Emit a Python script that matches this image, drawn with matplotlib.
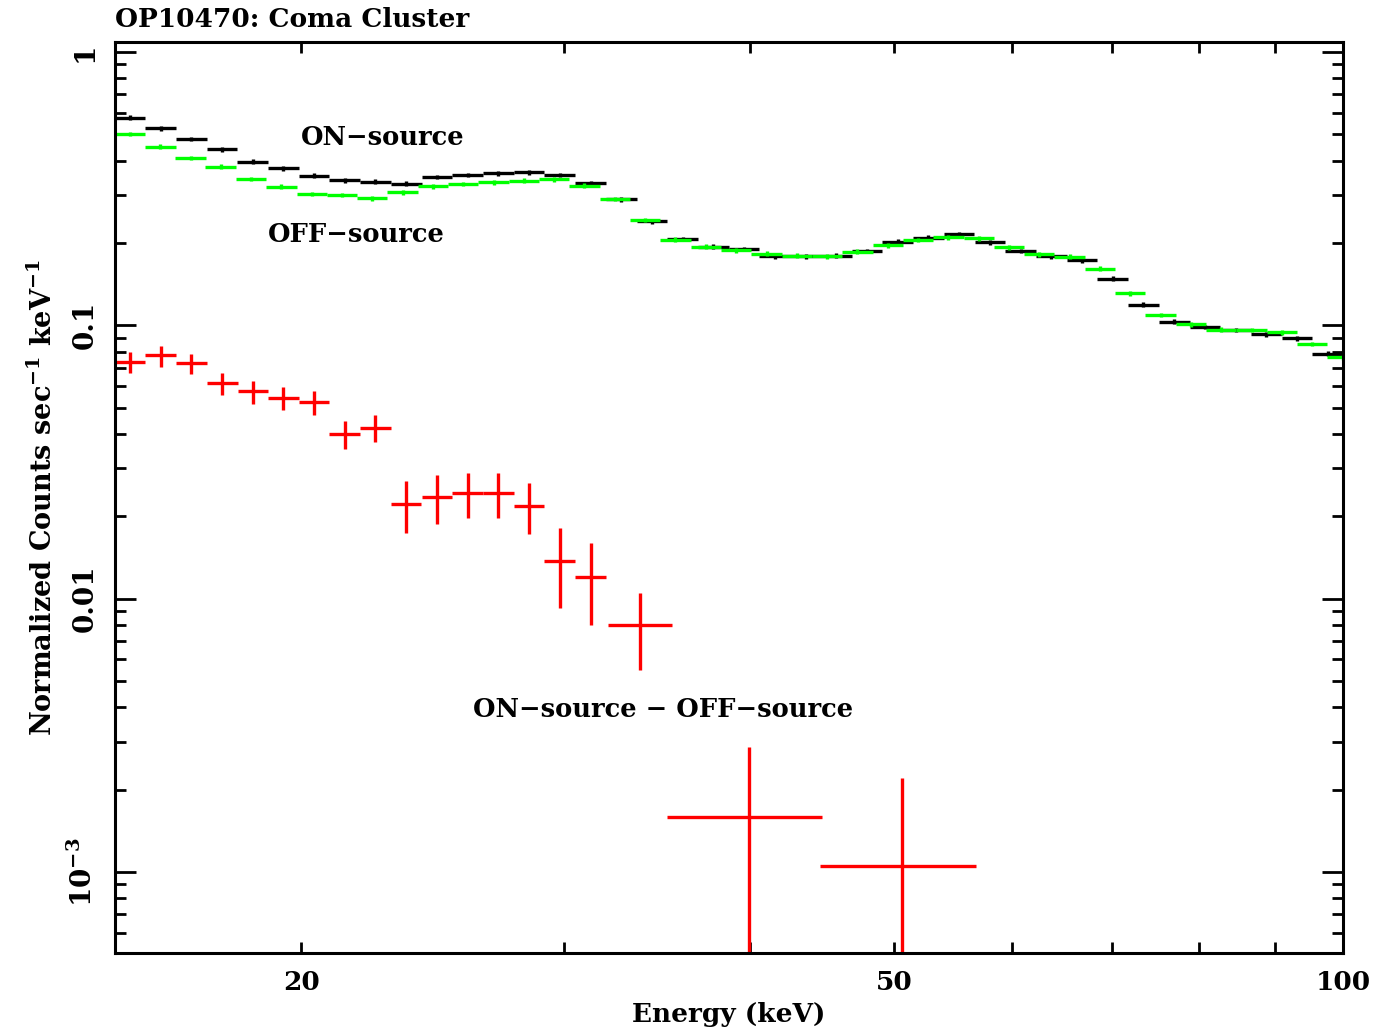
import matplotlib.pyplot as plt
from matplotlib.ticker import FixedLocator, FixedFormatter, NullFormatter

plt.rcParams['font.family'] = ['DejaVu Serif']
plt.rcParams['font.weight'] = 'bold'
plt.rcParams['mathtext.fontset'] = 'dejavuserif'
plt.rcParams['mathtext.default'] = 'bf'

# ON-source spectrum (black), channel centres in keV
on_energy = [15.35, 16.10, 16.88, 17.70, 18.56, 19.46, 20.40, 21.39, 22.43, 23.52,
             24.67, 25.87, 27.12, 28.44, 29.82, 31.27, 32.79, 34.38, 36.05, 37.80,
             39.64, 41.57, 43.59, 45.71, 47.93, 50.26, 52.70, 55.26, 57.95, 60.76,
             63.72, 66.81, 70.06, 73.47, 77.04, 80.78, 84.71, 88.83, 93.14, 97.67]
on_rate = [0.575, 0.526, 0.480, 0.441, 0.397, 0.375, 0.353, 0.339, 0.335, 0.330,
           0.349, 0.355, 0.360, 0.363, 0.355, 0.331, 0.289, 0.240, 0.207, 0.194,
           0.190, 0.179, 0.179, 0.180, 0.187, 0.202, 0.209, 0.215, 0.201, 0.187,
           0.179, 0.173, 0.148, 0.119, 0.103, 0.0986, 0.0961, 0.0927, 0.0896, 0.0787]
on_half_bin = 1.0240
on_rel_err = 0.02

# OFF-source spectrum (green)
off_energy = [15.35, 16.09, 16.86, 17.66, 18.51, 19.40, 20.33, 21.30, 22.32, 23.39,
              24.51, 25.69, 26.92, 28.21, 29.56, 30.98, 32.47, 34.02, 35.65, 37.36,
              39.16, 41.04, 43.00, 45.07, 47.23, 49.49, 51.86, 54.35, 56.96, 59.69,
              62.55, 65.55, 68.69, 71.99, 75.44, 79.06, 82.85, 86.82, 90.98, 95.34, 99.92]
off_rate = [0.501, 0.450, 0.409, 0.380, 0.343, 0.321, 0.302, 0.300, 0.291, 0.307,
            0.323, 0.329, 0.334, 0.338, 0.342, 0.324, 0.290, 0.243, 0.206, 0.194,
            0.188, 0.183, 0.180, 0.179, 0.186, 0.196, 0.205, 0.210, 0.208, 0.193,
            0.182, 0.178, 0.161, 0.131, 0.109, 0.101, 0.0964, 0.0961, 0.0943, 0.0854, 0.0764]
off_half_bin = 1.0237
off_rel_err = 0.02

# ON - OFF (red), grouped channels
diff_energy = [15.35, 16.10, 16.88, 17.70, 18.56, 19.46, 20.40, 21.39, 22.43, 23.52,
               24.67, 25.87, 27.12, 28.44, 29.82, 31.27, 33.77, 39.94, 50.63]
diff_elo = [14.99, 15.72, 16.48, 17.29, 18.13, 19.00, 19.92, 20.89, 21.90, 22.97,
            24.09, 25.26, 26.48, 27.77, 29.12, 30.54, 32.13, 35.17, 44.57]
diff_ehi = [15.72, 16.49, 17.29, 18.13, 19.01, 19.93, 20.89, 21.90, 22.97, 24.08,
            25.26, 26.49, 27.77, 29.12, 30.54, 32.02, 35.44, 44.71, 56.70]
diff_rate = [0.0736, 0.0777, 0.0726, 0.0613, 0.0573, 0.0542, 0.0524, 0.0399, 0.0422, 0.0222,
             0.0236, 0.0243, 0.0244, 0.0219, 0.0137, 0.0120, 0.00801, 0.001584, 0.001054]
diff_hi = [0.0801, 0.0840, 0.0785, 0.0671, 0.0625, 0.0593, 0.0573, 0.0448, 0.0470, 0.0269,
           0.0283, 0.0289, 0.0289, 0.0265, 0.0181, 0.0160, 0.01046, 0.002857, 0.002212]
diff_lo = [0.0667, 0.0706, 0.0662, 0.0554, 0.0515, 0.0489, 0.0471, 0.0353, 0.0374, 0.0174,
           0.0187, 0.0197, 0.0197, 0.0172, 0.00926, 0.00801, 0.00548, 1e-6, 1e-6]


def draw_spectrum(ax, energy, rate, half_bin, rel_err, color):
    xl = [e - e / half_bin for e in energy]
    xh = [e * half_bin - e for e in energy]
    yerr = [r * rel_err for r in rate]
    ax.errorbar(energy, rate, xerr=[xl, xh], yerr=yerr, fmt='none',
                ecolor=color, elinewidth=2.4, capsize=0)


fig = plt.figure(figsize=(13.87, 10.36), dpi=100)
ax = fig.add_axes([0.0829, 0.0801, 0.8854, 0.8794])

draw_spectrum(ax, on_energy, on_rate, on_half_bin, on_rel_err, 'black')
draw_spectrum(ax, off_energy, off_rate, off_half_bin, off_rel_err, '#00ff00')

dxl = [e - lo for e, lo in zip(diff_energy, diff_elo)]
dxh = [hi - e for e, hi in zip(diff_energy, diff_ehi)]
dyl = [r - lo for r, lo in zip(diff_rate, diff_lo)]
dyh = [hi - r for r, hi in zip(diff_rate, diff_hi)]
ax.errorbar(diff_energy, diff_rate, xerr=[dxl, dxh], yerr=[dyl, dyh], fmt='none',
            ecolor='red', elinewidth=2.4, capsize=0)

ax.set_xscale('log')
ax.set_yscale('log')
ax.set_xlim(15, 100)
ax.set_ylim(5.05e-4, 1.088)

ax.xaxis.set_major_locator(FixedLocator([20, 50, 100]))
ax.xaxis.set_major_formatter(FixedFormatter(['20', '50', '100']))
ax.xaxis.set_minor_locator(FixedLocator([30, 40, 60, 70, 80, 90]))
ax.xaxis.set_minor_formatter(NullFormatter())

ax.yaxis.set_major_locator(FixedLocator([1e-3, 1e-2, 0.1, 1]))
ax.yaxis.set_major_formatter(FixedFormatter([r'10$^{-3}$', '0.01', '0.1', '1']))
ax.yaxis.set_minor_locator(FixedLocator([m * d for d in [1e-4, 1e-3, 1e-2, 0.1]
                                         for m in range(2, 10)]))
ax.yaxis.set_minor_formatter(NullFormatter())

ax.tick_params(which='both', direction='in', top=True, right=True, width=2)
ax.tick_params(axis='x', which='both', length=8, pad=12, labelsize=19)
ax.tick_params(axis='y', which='major', length=15, pad=12, labelsize=20)
ax.tick_params(axis='y', which='minor', length=8)
for lab in ax.get_yticklabels():
    lab.set_rotation(90)
    lab.set_va('center')
for sp in ax.spines.values():
    sp.set_linewidth(2.2)

ax.set_xlabel('Energy (keV)', fontsize=19, fontweight='bold', labelpad=5)
ax.set_ylabel(r'Normalized Counts sec$^{-1}$ keV$^{-1}$', fontsize=19.5,
              fontweight='bold', labelpad=8)
ax.set_title('OP10470: Coma Cluster', loc='left', fontsize=19, fontweight='bold', pad=11)

ax.text(22.67, 0.485, 'ON\u2212source', fontsize=18.5, fontweight='bold', ha='center', va='center')
ax.text(21.77, 0.214, 'OFF\u2212source', fontsize=18.5, fontweight='bold', ha='center', va='center')
ax.text(35.0, 0.00392, 'ON\u2212source \u2212 OFF\u2212source', fontsize=18.5, fontweight='bold',
        ha='center', va='center')

fig.savefig('out.png', dpi=100)
